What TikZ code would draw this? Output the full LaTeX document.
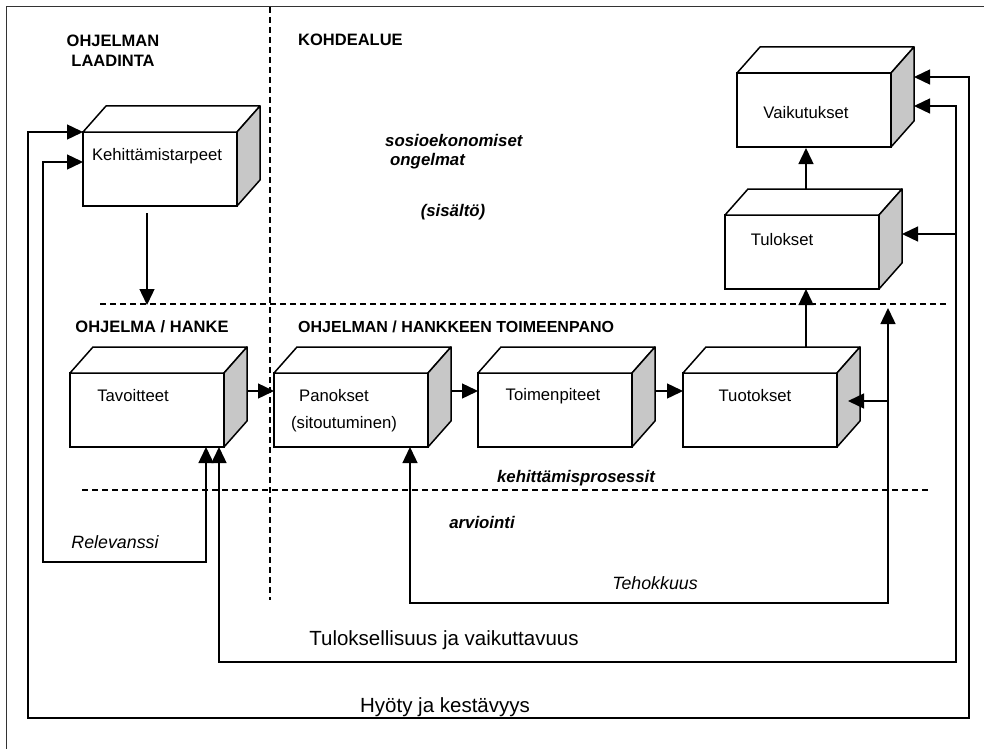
\documentclass[tikz,border=0pt]{standalone}
\usepackage{fontspec}
\setmainfont{Liberation Sans}
\usetikzlibrary{arrows.meta,calc}

% a 3D block: front face node #1 with its top-left corner at (#2,#3)
\newcommand\blockbox[3]{%
  \node[face] (#1) at (#2,#3) {};
  \draw[topface] (#1.north west) -- ++(23,-26) -- ++(154,0) -- (#1.north east) -- cycle;
  \draw[sideface] (#1.north east) -- ++(23,-26) -- ++(0,74) -- (#1.south east) -- cycle;
}

\begin{document}
\begin{tikzpicture}[x=1pt,y=-1pt,
  face/.style={draw, line width=1.5pt, fill=white, minimum width=154pt,
    minimum height=74pt, inner sep=0pt, outer sep=0pt, anchor=north west},
  topface/.style={draw, line width=1.5pt, fill=white, line join=round},
  sideface/.style={draw, line width=1.5pt, fill=black!22, line join=round},
  lbl/.style={font=\fontsize{16.7}{19}\selectfont, inner sep=0pt},
  big/.style={font=\fontsize{20.5}{24}\selectfont, inner sep=0pt},
  head/.style={font=\bfseries\fontsize{16.5}{20}\selectfont, inner sep=0pt, align=center},
  theme/.style={font=\bfseries\itshape\fontsize{16.8}{20}\selectfont, inner sep=0pt},
  crit/.style={font=\itshape\fontsize{17.8}{20}\selectfont, inner sep=0pt},
  tip/.tip={Triangle[length=16pt,width=15pt]},
  link/.style={line width=1.4pt, -tip},
  dlink/.style={line width=1.4pt, tip-tip},
  sep/.style={line width=1.2pt, dash pattern=on 6pt off 4pt},
  frame/.style={line width=1pt, black!80}
]
\useasboundingbox (0,0) rectangle (984,749);

% outer frame (top and left edges)
\draw[frame] (984,7) -- (6,7) -- (6,749);

% dashed dividers
\draw[sep] (270,7) -- (270,600);
\draw[sep] (100,304) -- (946,304);
\draw[sep] (82,490) -- (930,490);

% headings
\node[head] (hlaad) at (113,51) {OHJELMAN\\LAADINTA};
\node[head, anchor=west] (hkohde) at (298,40) {KOHDEALUE};
\node[head] (hohj) at (152,327) {OHJELMA / HANKE};
\node[head, anchor=west, font=\bfseries\fontsize{16}{20}\selectfont] (htoim) at (298,327) {OHJELMAN / HANKKEEN TOIMEENPANO};

% target area themes
\node[theme, anchor=west] (tsos) at (385,140) {sosioekonomiset};
\node[theme, anchor=west] (tong) at (390,161) {ongelmat};
\node[theme] (tsis) at (453,212) {(sisältö)};
\node[theme] (tkeh) at (576,478) {kehittämisprosessit};
\node[theme] (tarv) at (482,522) {arviointi};

% blocks
\blockbox{kt}{83}{132}
\blockbox{tav}{70}{373}
\blockbox{pan}{274}{373}
\blockbox{toi}{478}{373}
\blockbox{tuo}{683}{373}
\blockbox{tul}{725}{215}
\blockbox{vai}{737}{73}

% block texts
\node[lbl] (tkt) at (157,156) {Kehittämistarpeet};
\node[lbl] (ttav) at (133,396) {Tavoitteet};
\node[lbl] (tpan) at (334,396) {Panokset};
\node[lbl] (tsit) at (344,424) {(sitoutuminen)};
\node[lbl] (ttoi) at (553,396) {Toimenpiteet};
\node[lbl] (ttuo) at (755,396) {Tuotokset};
\node[lbl] (ttul) at (782,240) {Tulokset};
\node[lbl] (tvai) at (806,113) {Vaikutukset};

% main flow
\coordinate (ktdown) at (147,213);
\coordinate (ktend) at (147,305);
\draw[link] (ktdown) -- (ktend);
\coordinate (tavout) at ($(tav.north east)+(23,18)$);
\draw[link] (tavout) -- (pan.west |- tavout);
\coordinate (panout) at ($(pan.north east)+(23,18)$);
\draw[link] (panout) -- (toi.west |- panout);
\coordinate (toiout) at ($(toi.north east)+(23,18)$);
\draw[link] (toiout) -- (tuo.west |- toiout);
\coordinate (tuotop) at (806,347);
\coordinate (tulbot) at (806,289);
\draw[link] (tuotop) -- (tulbot);
\coordinate (tultop) at (806,189);
\coordinate (vaibot) at (806,148);
\draw[link] (tultop) -- (vaibot);

% Relevanssi loop
\coordinate (r1) at (206,562);
\coordinate (r2) at (43,562);
\coordinate (r3) at (43,162);
\draw[dlink] (tav.south -| r1) -- (r1) -- (r2) -- (r3) -- (kt.west |- r3);
\node[crit] (lrel) at (115,542) {Relevanssi};

% Tehokkuus loop
\coordinate (e1) at (410,603);
\coordinate (e2) at (888,603);
\coordinate (e3) at (888,308);
\coordinate (e4) at (888,401);
\coordinate (tuoin) at (848,401);
\draw[dlink] (pan.south -| e1) -- (e1) -- (e2) -- (e3);
\draw[link] (e4) -- (tuoin);
\node[crit] (lteh) at (655,583) {Tehokkuus};

% Tuloksellisuus ja vaikuttavuus loop
\coordinate (v1) at (219,662);
\coordinate (v2) at (956,662);
\coordinate (v3) at (956,106);
\coordinate (vaiin2) at ($(vai.north east)+(23,33)$);
\coordinate (v4) at (956,234);
\coordinate (tulin) at ($(tul.north east)+(23,19)$);
\draw[dlink] (tav.south -| v1) -- (v1) -- (v2) -- (v3) -- (vaiin2);
\draw[link] (v4) -- (tulin);
\node[big] (ltul) at (444,640) {Tuloksellisuus ja vaikuttavuus};

% Hyöty ja kestävyys loop
\coordinate (h1) at (28,132);
\coordinate (h2) at (28,718);
\coordinate (h3) at (969,718);
\coordinate (h4) at (969,77);
\coordinate (vaiin1) at ($(vai.north east)+(23,4)$);
\draw[dlink] (kt.north west) -- (h1) -- (h2) -- (h3) -- (h4) -- (vaiin1);
\node[big] (lhyo) at (445,707) {Hyöty ja kestävyys};
\end{tikzpicture}
\end{document}
